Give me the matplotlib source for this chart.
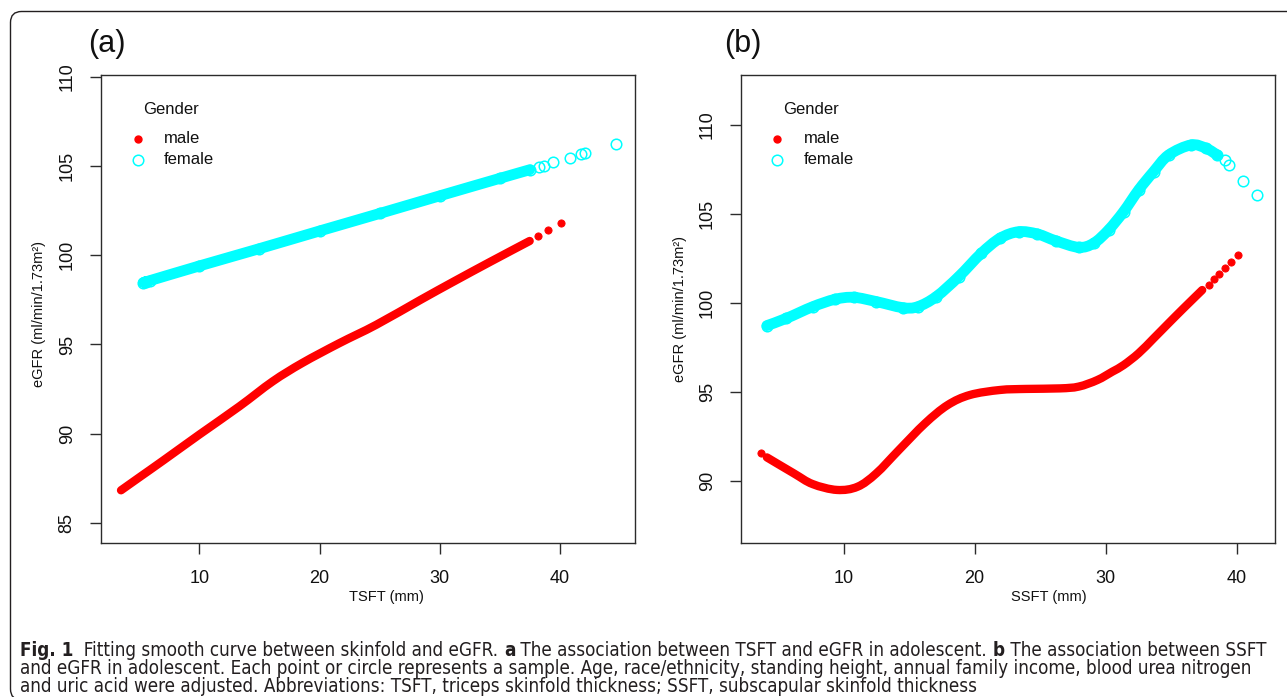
import matplotlib
matplotlib.use("Agg")
import matplotlib.pyplot as plt
from matplotlib.patches import FancyBboxPatch, PathPatch
from matplotlib.path import Path
from matplotlib.transforms import IdentityTransform
from matplotlib.font_manager import FontProperties, fontManager

# ---------------- data ----------------
# Panel (a): TSFT vs eGFR
tsft_male_x = [3.49, 5.0, 7.0, 10.0, 13.33, 16.1, 18.56, 21.64, 24.71, 28.40, 31.17, 34.25, 37.48]
tsft_male_y = [86.83, 87.55, 88.50, 89.95, 91.53, 92.93, 93.96, 95.07, 96.10, 97.50, 98.53, 99.65, 100.80]
tsft_male_tail_x = [38.18, 39.04, 40.06]
tsft_male_tail_y = [101.10, 101.42, 101.81]

tsft_female_x = [5.34, 5.6, 5.9, 10.0, 15.0, 20.0, 25.0, 30.0, 35.0, 37.48]
tsft_female_y = [98.47, 98.52, 98.58, 99.40, 100.37, 101.36, 102.34, 103.33, 104.31, 104.79]
tsft_female_tail_x = [38.25, 38.71, 39.42, 40.86, 41.78, 42.09, 44.70]
tsft_female_tail_y = [104.96, 105.00, 105.20, 105.47, 105.65, 105.71, 106.21]

# Panel (b): SSFT vs eGFR
ssft_male_x = [4.14, 6.20, 7.63, 9.49, 11.06, 12.49, 14.21, 16.21, 17.93, 19.64, 21.93,
               23.93, 26.51, 27.94, 29.37, 30.51, 31.37, 32.51, 33.66, 34.80, 35.94, 37.37]
ssft_male_y = [91.31, 90.41, 89.81, 89.48, 89.66, 90.41, 91.72, 93.22, 94.25, 94.82, 95.10,
               95.16, 95.19, 95.29, 95.66, 96.13, 96.50, 97.16, 98.00, 98.85, 99.69, 100.72]
ssft_male_tail_x = [3.71, 37.89, 38.29, 38.66, 39.09, 39.60, 40.12]
ssft_male_tail_y = [91.54, 101.00, 101.34, 101.64, 101.94, 102.30, 102.69]

ssft_female_x = [4.14, 5.63, 7.63, 9.35, 10.78, 12.49, 14.50, 15.64, 17.07, 18.78, 20.50,
                 21.93, 23.36, 24.79, 26.22, 27.94, 29.08, 30.22, 31.37, 32.51, 33.66,
                 34.80, 36.52, 37.66, 38.52]
ssft_female_y = [98.72, 99.13, 99.78, 100.20, 100.31, 100.07, 99.73, 99.78, 100.35, 101.47, 102.78,
                 103.63, 104.00, 103.87, 103.48, 103.12, 103.35, 104.10, 105.13, 106.34, 107.38,
                 108.31, 108.88, 108.69, 108.31]
ssft_female_tail_x = [39.09, 39.38, 40.52, 41.58]
ssft_female_tail_y = [108.03, 107.75, 106.87, 106.06]

x_ticks = [10, 20, 30, 40]
a_y_ticks = [85, 90, 95, 100, 105, 110]
b_y_ticks = [90, 95, 100, 105, 110]
legend_title = "Gender"
legend_labels = ["male", "female"]

caption_lines = [
    [("Fig. 1", "bold"), ("  Fitting smooth curve between skinfold and eGFR. ", "normal"),
     ("a", "bold"), (" The association between TSFT and eGFR in adolescent. ", "normal"),
     ("b", "bold"), (" The association between SSFT", "normal")],
    [("and eGFR in adolescent. Each point or circle represents a sample. Age, race/ethnicity, "
      "standing height, annual family income, blood urea nitrogen", "normal")],
    [("and uric acid were adjusted. Abbreviations: TSFT, triceps skinfold thickness; "
      "SSFT, subscapular skinfold thickness", "normal")],
]

# ---------------- layout ----------------
W, H = 1287, 697
RED = "#FF0000"
CYAN = "#00FFFF"
AXC = "#2b2b2b"
plot_font = ["Liberation Sans", "DejaVu Sans"]


def _wnum(w):
    if isinstance(w, int):
        return w
    table = {"ultralight": 200, "light": 300, "normal": 400, "regular": 400, "book": 400,
             "medium": 500, "roman": 400, "semibold": 600, "demibold": 600, "demi": 600,
             "bold": 700, "heavy": 800, "extra bold": 800, "black": 900}
    return table.get(str(w).lower(), 400)


def pick_caption_font():
    """Find a condensed sans face with a regular weight; fall back to Liberation Sans."""
    names = {f.name for f in fontManager.ttflist}
    if "Liberation Sans Narrow" in names:
        return {"family": ["Liberation Sans Narrow", "DejaVu Sans"], "stretch": "normal",
                "reg": "normal"}
    best = None
    for f in fontManager.ttflist:
        st = f.stretch
        if not (isinstance(st, str) and "condensed" in st):
            continue
        if "Mono" in f.name or "Serif" in f.name:
            continue
        w = _wnum(f.weight)
        score = abs(w - 400) + (0 if st in ("condensed", "semi-condensed") else 50)
        if best is None or score < best[0]:
            best = (score, f.name, st, w)
    if best is not None and best[0] <= 150:
        return {"family": [best[1], "DejaVu Sans"], "stretch": best[2], "reg": best[3]}
    return {"family": ["Liberation Sans", "DejaVu Sans"], "stretch": "normal", "reg": "normal"}


capf = pick_caption_font()

fig = plt.figure(figsize=(W / 100, H / 100), dpi=100)
fig.patch.set_facecolor("white")


def fx(px):
    return px / W


def fy(py):
    return 1 - py / H


# frame around figure
frame = FancyBboxPatch((10.5, -3), 1300, 697 - 11.5 + 3,
                       boxstyle="round,pad=0,rounding_size=11",
                       transform=IdentityTransform(), fill=False,
                       edgecolor="#231f20", linewidth=1.0)
fig.add_artist(frame)


def make_axes(left, right, top, bottom):
    return fig.add_axes([fx(left), fy(bottom), fx(right) - fx(left), fy(top) - fy(bottom)])


def style_axes(ax, xlim, ylim, yticks):
    ax.set_xlim(*xlim)
    ax.set_ylim(*ylim)
    ax.set_xticks(x_ticks)
    ax.set_yticks(yticks)
    for s in ax.spines.values():
        s.set_color(AXC)
        s.set_linewidth(1.0)
    ax.tick_params(axis="both", direction="out", length=8, width=1.0, color=AXC,
                   labelsize=13, labelcolor="#111111")
    ax.tick_params(axis="x", pad=11)
    ax.tick_params(axis="y", pad=10, labelrotation=90)
    for lab in ax.get_yticklabels():
        lab.set_va("center")
        lab.set_family(plot_font)
    for lab in ax.get_xticklabels():
        lab.set_family(plot_font)


def smooth_path(xs, ys):
    """Catmull-Rom style cubic Bezier path through the given points."""
    pts = list(zip(xs, ys))
    n = len(pts)
    verts = [pts[0]]
    codes = [Path.MOVETO]
    for i in range(n - 1):
        p0 = pts[i - 1] if i > 0 else pts[i]
        p1 = pts[i]
        p2 = pts[i + 1]
        p3 = pts[i + 2] if i + 2 < n else pts[i + 1]
        c1 = (p1[0] + (p2[0] - p0[0]) / 6.0, p1[1] + (p2[1] - p0[1]) / 6.0)
        c2 = (p2[0] - (p3[0] - p1[0]) / 6.0, p2[1] - (p3[1] - p1[1]) / 6.0)
        verts += [c1, c2, p2]
        codes += [Path.CURVE4] * 3
    return Path(verts, codes)


def band(ax, xs, ys, color, lw, z):
    patch = PathPatch(smooth_path(xs, ys), fill=False, edgecolor=color, lw=lw,
                      capstyle="round", joinstyle="round", zorder=z)
    ax.add_patch(patch)


def draw_series(ax, mx, my, mtx, mty, fxs, fys, ftx, fty, lw_m=6.0, lw_f=7.8):
    band(ax, fxs, fys, CYAN, lw_f, 2)
    ax.plot(fxs, fys, ls="none", marker="o", ms=7.6, mfc="none", mec=CYAN, mew=1.1, zorder=2)
    ax.plot(ftx, fty, ls="none", marker="o", ms=7.6, mfc="none", mec=CYAN, mew=1.1, zorder=2)
    band(ax, mx, my, RED, lw_m, 3)
    ax.plot(mtx, mty, ls="none", marker="o", ms=5.2, mfc=RED, mec=RED, mew=0.6, zorder=3)


def draw_legend(xm, xt, xg):
    fig.text(fx(xg), fy(109), legend_title, fontsize=12, family=plot_font,
             ha="left", va="center", color="#111111")
    fig.text(fx(xt), fy(138.5), legend_labels[0], fontsize=12, family=plot_font,
             ha="left", va="center", color="#111111")
    fig.text(fx(xt), fy(160), legend_labels[1], fontsize=12, family=plot_font,
             ha="left", va="center", color="#111111")
    fig.lines.append(plt.Line2D([fx(xm)], [fy(138.5)], transform=fig.transFigure, ls="none",
                                marker="o", ms=5.0, mfc=RED, mec=RED, figure=fig))
    fig.lines.append(plt.Line2D([fx(xm)], [fy(160)], transform=fig.transFigure, ls="none",
                                marker="o", ms=7.6, mfc="none", mec=CYAN, mew=1.1, figure=fig))


# Panel (a)
ax_a = make_axes(100.7, 635.0, 75.0, 543.3)
style_axes(ax_a, (1.80, 46.24), (83.86, 110.1), a_y_ticks)
draw_series(ax_a, tsft_male_x, tsft_male_y, tsft_male_tail_x, tsft_male_tail_y,
            tsft_female_x, tsft_female_y, tsft_female_tail_x, tsft_female_tail_y)

# Panel (b)
ax_b = make_axes(740.7, 1275.3, 75.0, 543.3)
style_axes(ax_b, (2.14, 42.95), (86.48, 112.81), b_y_ticks)
draw_series(ax_b, ssft_male_x, ssft_male_y, ssft_male_tail_x, ssft_male_tail_y,
            ssft_female_x, ssft_female_y, ssft_female_tail_x, ssft_female_tail_y)

draw_legend(137.5, 164, 143)
draw_legend(777.5, 804, 783)

# panel labels
fig.text(fx(88), fy(44), "(a)", fontsize=22, family=plot_font, ha="left", va="center", color="#111111")
fig.text(fx(724), fy(44), "(b)", fontsize=22, family=plot_font, ha="left", va="center", color="#111111")

# axis labels
fig.text(fx(386), fy(597), "TSFT (mm)", fontsize=10.5, family=plot_font, ha="center", va="center", color="#111111")
fig.text(fx(1049), fy(597), "SSFT (mm)", fontsize=10.5, family=plot_font, ha="center", va="center", color="#111111")
fig.text(fx(39), fy(314), "eGFR (ml/min/1.73m\u00b2)", fontsize=10.5, family=plot_font, rotation=90,
         ha="center", va="center", color="#111111")
fig.text(fx(680), fy(309), "eGFR (ml/min/1.73m\u00b2)", fontsize=10.5, family=plot_font, rotation=90,
         ha="center", va="center", color="#111111")

# caption
renderer = fig.canvas.get_renderer()


def cap_prop(weight, size):
    w = capf["reg"] if weight == "normal" else "bold"
    return FontProperties(family=capf["family"], weight=w, size=size, stretch=capf["stretch"])


def run_width(txt, weight, size):
    prop = cap_prop(weight, size)
    w1 = renderer.get_text_width_height_descent("|" + txt + "|", prop, False)[0]
    w0 = renderer.get_text_width_height_descent("||", prop, False)[0]
    return w1 - w0


ref_w = sum(run_width(t, w, 10) for t, w in caption_lines[1])
cap_size = min(14.0, 10 * (1237.0 / ref_w))

baselines = [656.5, 674.0, 691.5]
for line, base in zip(caption_lines, baselines):
    x = 20.0
    for txt, weight in line:
        fig.text(fx(x), fy(base), txt, fontproperties=cap_prop(weight, cap_size),
                 ha="left", va="baseline", color="#231f20")
        x += run_width(txt, weight, cap_size)

fig.savefig("out.png", dpi=100, facecolor="white")
